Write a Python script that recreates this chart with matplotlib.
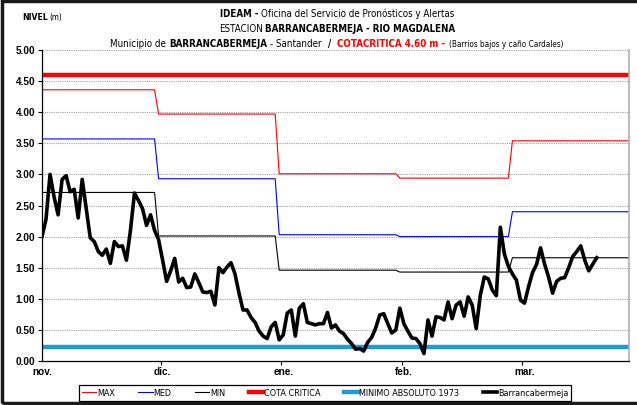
import numpy as np
import matplotlib
matplotlib.use('Agg')
from matplotlib import pyplot as plt
from matplotlib import font_manager
from matplotlib.patches import Rectangle

# daily water level at Barrancabermeja (m), from 1 nov.
level = [2.00, 2.28, 3.00, 2.64, 2.35, 2.92, 2.98, 2.72, 2.76, 2.30,
         2.92, 2.45, 1.98, 1.92, 1.76, 1.70, 1.80, 1.57, 1.92, 1.84,
         1.85, 1.62, 2.10, 2.70, 2.58, 2.45, 2.18, 2.35, 2.10, 1.95,
         1.62, 1.28, 1.45, 1.65, 1.27, 1.33, 1.18, 1.19, 1.40, 1.26,
         1.11, 1.10, 1.12, 0.90, 1.50, 1.42, 1.51, 1.58, 1.40, 1.09,
         0.82, 0.82, 0.70, 0.62, 0.48, 0.40, 0.36, 0.55, 0.62, 0.34,
         0.42, 0.77, 0.82, 0.40, 0.85, 0.92, 0.62, 0.60, 0.58, 0.60,
         0.60, 0.78, 0.53, 0.58, 0.48, 0.44, 0.35, 0.28, 0.19, 0.20,
         0.16, 0.30, 0.38, 0.53, 0.74, 0.76, 0.60, 0.45, 0.50, 0.85,
         0.60, 0.48, 0.37, 0.36, 0.28, 0.12, 0.66, 0.40, 0.71, 0.70,
         0.66, 0.95, 0.68, 0.90, 0.95, 0.72, 1.03, 0.90, 0.52, 1.05,
         1.35, 1.32, 1.14, 1.05, 2.15, 1.72, 1.52, 1.40, 1.30, 0.98,
         0.93, 1.19, 1.42, 1.55, 1.82, 1.56, 1.35, 1.09, 1.28, 1.33,
         1.34, 1.50, 1.68, 1.76, 1.85, 1.62, 1.45, 1.56, 1.66]

# monthly historical levels (step lines)
seg_start = [0, 29, 59, 89, 117]
max_vals = [4.36, 3.97, 3.01, 2.94, 3.54]
med_vals = [3.57, 2.93, 2.03, 2.00, 2.40]
min_vals = [2.71, 2.01, 1.46, 1.43, 1.66]
n_days = 147
cota_critica = 4.60
minimo_1973 = 0.23

month_pos = [0, 30, 60, 90, 120]
month_labels = ['nov.', 'dic.', 'ene.', 'feb.', 'mar.']

plt.rcParams['font.family'] = ['Liberation Sans', 'DejaVu Sans']

# narrow font for titles/legend (Arial Narrow look)
names = {f.name for f in font_manager.fontManager.ttflist}
cond = [f for f in font_manager.fontManager.ttflist
        if f.name == 'DejaVu Sans' and 'ondensed' in f.fname]
if 'Liberation Sans Narrow' in names:
    NARROW = dict(family=['Liberation Sans Narrow', 'DejaVu Sans'])
    scale = 1.0
elif cond:
    NARROW = dict(family=['DejaVu Sans'], stretch='condensed')
    scale = 0.78
else:
    NARROW = dict(family=['Liberation Sans', 'DejaVu Sans'])
    scale = 0.68


def fnt(size, **kw):
    d = dict(NARROW)
    d['fontsize'] = size * scale
    d.update(kw)
    return d


def steps(vals):
    bounds = seg_start + [n_days]
    out = []
    for i, v in enumerate(vals):
        out.extend([v] * (bounds[i + 1] - bounds[i]))
    return np.array(out)


def rich_line(fig, y, pieces, xc, align='center'):
    r = fig.canvas.get_renderer()
    items = []
    for s, gap, kw in pieces:
        t = fig.text(0, y, s, ha='left', va='baseline', **kw)
        w = t.get_window_extent(renderer=r).width
        items.append((t, w, gap))
    total = sum(w + g for t, w, g in items) - items[-1][2]
    x = xc * fig.bbox.width - (total / 2 if align == 'center' else 0)
    for t, w, g in items:
        t.set_x(x / fig.bbox.width)
        x += w + g


fig = plt.figure(figsize=(6.37, 4.05), dpi=100)
ax = fig.add_axes([42 / 637, 1 - 361 / 405, (629 - 42) / 637, (361 - 50) / 405])

x = np.arange(n_days)
l_max, = ax.plot(x, steps(max_vals), color='#ff0000', lw=0.8, label='MAX')
l_med, = ax.plot(x, steps(med_vals), color='#0000ff', lw=0.8, label='MED')
l_min, = ax.plot(x, steps(min_vals), color='black', lw=0.8, label='MIN')
l_cota = ax.axhline(cota_critica, color='#ff0000', lw=3.2, label='COTA CRITICA')
l_mini = ax.axhline(minimo_1973, color='#1f9bd1', lw=3.2, label='MINIMO ABSOLUTO 1973')
l_bar, = ax.plot(np.arange(len(level)), level, color='black', lw=2.6,
                 solid_joinstyle='round', label='Barrancabermeja')

ax.set_xlim(0, n_days - 1)
ax.set_ylim(0, 5)
ax.set_yticks(np.arange(0, 5.01, 0.5))
ax.set_yticklabels(['{0:.2f}'.format(v) for v in np.arange(0, 5.01, 0.5)],
                   fontsize=7.2, fontweight='bold')
ax.set_xticks(month_pos)
ax.set_xticklabels(month_labels, fontsize=7.2, fontweight='bold')
ax.set_xticks([p - 0.5 for p in month_pos[1:]], minor=True)
ax.tick_params(axis='x', which='major', length=0, pad=4)
ax.tick_params(axis='x', which='minor', length=3, direction='out', width=0.8)
ax.tick_params(axis='y', length=3, direction='out', width=0.8, pad=2)
ax.grid(axis='y', color='#a0a0a0', lw=0.8, linestyle=(0, (1, 1)))
ax.set_axisbelow(True)
ax.spines['top'].set_visible(False)
ax.spines['right'].set_color('#b0b0b0')
ax.spines['right'].set_linewidth(1.2)
ax.spines['left'].set_linewidth(0.9)
ax.spines['bottom'].set_linewidth(0.9)

# titles
xc = 337 / 637
rich_line(fig, 1 - 17 / 405, [
    ('IDEAM -', 3, fnt(9, fontweight='bold')),
    ('Oficina del Servicio de Pronósticos y Alertas', 0, fnt(9))], xc)
rich_line(fig, 1 - 32 / 405, [
    ('ESTACION', 2, fnt(9)),
    ('BARRANCABERMEJA - RIO MAGDALENA', 0, fnt(9, fontweight='bold'))], xc)
rich_line(fig, 1 - 47 / 405, [
    ('Municipio de', 3, fnt(9)),
    ('BARRANCABERMEJA', 3, fnt(9, fontweight='bold')),
    ('- Santander', 6, fnt(9)),
    ('/', 6, fnt(9, fontweight='bold')),
    ('COTACRITICA 4.60 m -', 4, fnt(9, fontweight='bold', color='#ff0000')),
    ('(Barrios bajos y caño Cardales)', 0, fnt(7.5))], xc)
rich_line(fig, 1 - 20 / 405, [
    ('NIVEL', 2, fnt(8, fontweight='bold')),
    ('(m)', 0, fnt(7.5))], 22 / 637, align='left')

leg_prop = fnt(8.3)
leg_prop['size'] = leg_prop.pop('fontsize')
leg = fig.legend(handles=[l_max, l_med, l_min, l_cota, l_mini, l_bar],
                 loc='center', bbox_to_anchor=(325 / 637, 1 - 393 / 405), ncol=6,
                 prop=leg_prop, frameon=True, fancybox=False,
                 edgecolor='black', framealpha=1, handlelength=1.6, handletextpad=0.1,
                 columnspacing=2.6, borderpad=0.35)
leg.get_frame().set_linewidth(0.9)

# outer chart border
fig.patches.append(Rectangle((2 / 637, 2 / 405), 1.02, 1 - 3 / 405, transform=fig.transFigure,
                             fill=False, edgecolor='#1a1a1a', lw=2.5))

fig.savefig('out.png', dpi=100)
